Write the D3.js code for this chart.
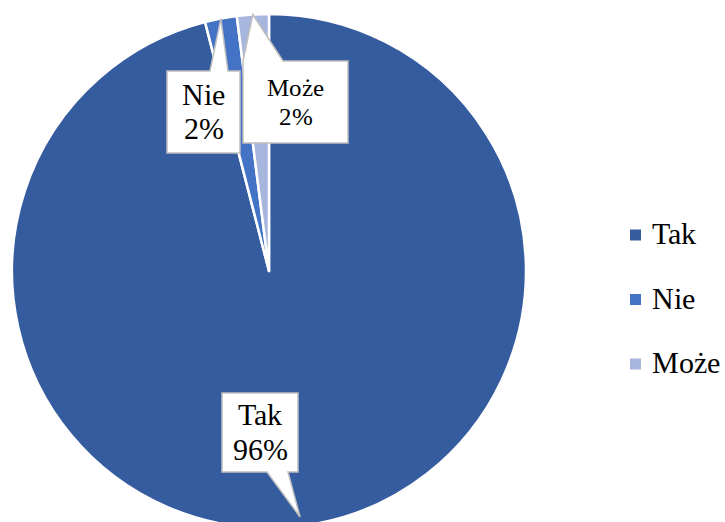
<!DOCTYPE html>
<html><head><meta charset="utf-8"><script src="https://cdn.jsdelivr.net/npm/d3@7"></script>
<style>
  @font-face { font-family: "ChartSerif"; src: local("Liberation Serif"), local("LiberationSerif"), local("Times New Roman"); }
  body { margin: 0; }
  .lbl { font-family: "ChartSerif", "Liberation Serif", serif; }
</style>
</head>
<body>
<script>
// data
var categories = ["Tak", "Nie", "Może"];
var values = [96, 2, 2];
var percentLabels = ["96%", "2%", "2%"];
var colors = ["#355c9f", "#4472c4", "#a7b6dc"];

var cx = 269, cy = 271, radius = 257;

var svg = d3.select("body").append("svg").attr("width", 725).attr("height", 522);

// pie, excel style: start at 12 o'clock, clockwise, no sorting
var pie = d3.pie()
    .sort(null)
    .value(function(d) { return d.value; });

var arc = d3.arc()
    .innerRadius(0)
    .outerRadius(radius);

var data = categories.map(function(c, i) {
    return {name: c, value: values[i], label: percentLabels[i], color: colors[i]};
});
var arcs = pie(data);

var g = svg.append("g")
    .attr("transform", "translate(" + cx + "," + cy + ")");

g.selectAll(".slice")
    .data(arcs)
    .enter().append("path")
    .attr("class", "slice")
    .attr("d", arc)
    .attr("fill", function(d) { return d.data.color; })
    .attr("stroke", "#ffffff")
    .attr("stroke-width", 2.5)
    .attr("stroke-linejoin", "round");

// callout boxes (relative to pie centre), side = which edge the pointer leaves from
var callouts = {
    "Tak":  {x0: -47, y0: 122, x1: 29, y1: 201, side: "bottom", b0: -2, b1: 19, apexR: 0.965, size: 30},
    "Nie":  {x0: -102, y0: -200, x1: -29, y1: -118, side: "top", b0: -59, b1: -41, apexR: 1.0, size: 30},
    "Może": {x0: -26, y0: -210, x1: 79, y1: -128, side: "top", b0: -26, b1: 14, apexR: 1.0, size: 25}
};

function calloutPath(c, apex) {
    var p = d3.path();
    if (c.side === "top") {
        p.moveTo(c.x0, c.y0);
        p.lineTo(c.b0, c.y0);
        p.lineTo(apex[0], apex[1]);
        p.lineTo(c.b1, c.y0);
        p.lineTo(c.x1, c.y0);
        p.lineTo(c.x1, c.y1);
        p.lineTo(c.x0, c.y1);
    } else {
        p.moveTo(c.x0, c.y0);
        p.lineTo(c.x1, c.y0);
        p.lineTo(c.x1, c.y1);
        p.lineTo(c.b1, c.y1);
        p.lineTo(apex[0], apex[1]);
        p.lineTo(c.b0, c.y1);
        p.lineTo(c.x0, c.y1);
    }
    p.closePath();
    return p.toString();
}

g.selectAll(".callout")
    .data(arcs)
    .enter().append("path")
    .attr("class", "callout")
    .attr("d", function(d) {
        var c = callouts[d.data.name];
        var a = (d.startAngle + d.endAngle) / 2;
        var r = radius * c.apexR;
        return calloutPath(c, [r * Math.sin(a), -r * Math.cos(a)]);
    })
    .attr("fill", "#ffffff")
    .attr("stroke", "#bfbfbf")
    .attr("stroke-width", 1.5);

// two lines per callout: category name and percentage
var lines = [];
arcs.forEach(function(d) {
    var c = callouts[d.data.name];
    var mx = cx + (c.x0 + c.x1) / 2;
    var my = cy + (c.y0 + c.y1) / 2;
    var lh = c.size * 1.15;
    lines.push({text: d.data.name, x: mx, y: my - lh / 2 + c.size * 0.33, size: c.size});
    lines.push({text: d.data.label, x: mx, y: my + lh / 2 + c.size * 0.33, size: c.size});
});

svg.selectAll(".lbl")
    .data(lines)
    .enter().append("text")
    .attr("class", "lbl")
    .attr("x", function(d) { return d.x; })
    .attr("y", function(d) { return d.y; })
    .attr("text-anchor", "middle")
    .attr("font-size", function(d) { return d.size; })
    .text(function(d) { return d.text; });

// legend
var legendY = d3.scalePoint()
    .domain(categories)
    .range([235, 364]);

svg.selectAll(".legend-box")
    .data(data)
    .enter().append("rect")
    .attr("x", 630)
    .attr("y", function(d) { return legendY(d.name) - 5.5; })
    .attr("width", 11)
    .attr("height", 11)
    .attr("fill", function(d) { return d.color; });

svg.selectAll(".legend-text")
    .data(data)
    .enter().append("text")
    .attr("class", "lbl")
    .attr("x", 652)
    .attr("y", function(d) { return legendY(d.name) + 9; })
    .attr("font-size", 30)
    .text(function(d) { return d.name; });
</script>
</body></html>
